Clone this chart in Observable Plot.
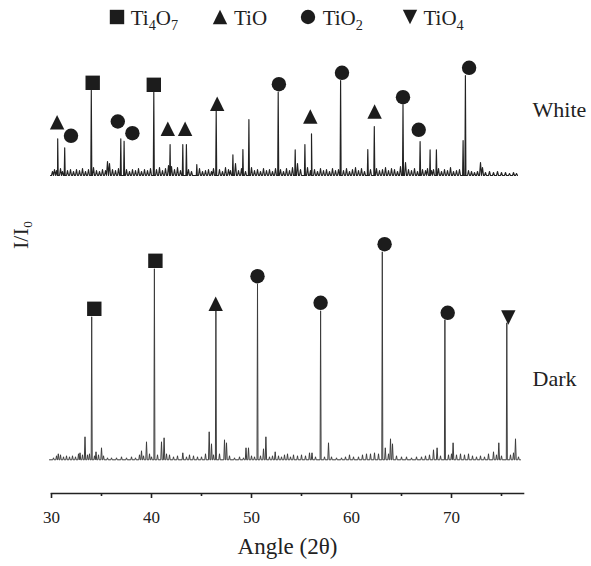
<!DOCTYPE html>
<html>
<head>
<meta charset="utf-8">
<script src="https://cdn.jsdelivr.net/npm/d3@7"></script>
<script src="https://cdn.jsdelivr.net/npm/@observablehq/plot@0.6"></script>
<style>
  body { margin: 0; background: #fff; font-family: "Liberation Serif", "Times New Roman", serif; color: #222; }
  #legend { position: relative; width: 591px; height: 34px; font-size: 21px; }
  #legend .item { position: absolute; top: 0; height: 34px; display: flex; align-items: center; }
  #legend svg { display: block; }
  #legend .lbl { position: absolute; top: 6px; line-height: 24px; white-space: nowrap; }
  #legend sub { font-size: 0.68em; vertical-align: -0.35em; line-height: 0; }
</style>
</head>
<body>
<div id="legend"></div>
<div id="chart"></div>
<script>
// ---------- data ----------
const majorTicks = [30, 40, 50, 60, 70];
const minorTicks = [35, 45, 55, 65, 75];
const sampleNames = ["White", "Dark"];

// White pattern: main peaks (angle 2θ, intensity a.u.)
const whitePeakAngle  = [30.62, 31.32, 33.98, 36.93, 37.26, 40.23, 41.86, 43.13, 43.49, 44.53, 46.47, 48.14, 49.14, 49.74, 52.67, 54.37, 55.34, 56.0, 58.91, 61.63, 62.28, 65.15, 66.86, 67.86, 68.49, 71.16, 71.39];
const whitePeakHeight = [36.7, 27.7, 85.3, 36.7, 34.3, 83.3, 31, 31, 31, 11, 65, 20.7, 26, 56, 83.3, 25.7, 31, 41.7, 95, 26, 49, 70.7, 34, 25.7, 25.7, 35, 100];
// White pattern: background noise spikes
const whiteNoiseAngle  = [30.1, 30.3, 30.5, 30.9, 31.1, 31.6, 31.9, 32.2, 32.5, 32.8, 33.1, 33.4, 33.7, 34.2, 34.5, 34.8, 35.1, 35.4, 35.6, 35.8, 36.1, 36.4, 36.7, 37.5, 37.8, 38.1, 38.4, 38.7, 39.0, 39.3, 39.6, 39.9, 40.5, 40.8, 41.1, 41.4, 41.7, 42.0, 42.3, 42.6, 42.9, 43.7, 44.0, 44.8, 45.1, 45.4, 45.7, 46.0, 46.2, 46.8, 47.1, 47.4, 47.7, 47.9, 48.4, 48.7, 49.0, 49.4, 50.0, 50.3, 50.6, 50.9, 51.2, 51.5, 51.8, 52.1, 52.4, 52.9, 53.2, 53.5, 53.8, 54.1, 54.6, 54.9, 55.6, 55.9, 56.3, 56.6, 56.9, 57.2, 57.5, 57.8, 58.1, 58.4, 58.7, 59.2, 59.5, 59.8, 60.1, 60.4, 60.7, 61.0, 61.3, 61.9, 62.5, 62.8, 63.1, 63.4, 63.7, 64.0, 64.3, 64.6, 64.9, 65.4, 65.7, 66.0, 66.3, 66.6, 67.1, 67.4, 67.6, 68.0, 68.2, 68.7, 69.0, 69.3, 69.6, 69.9, 70.2, 70.5, 70.8, 71.7, 72.0, 72.3, 72.6, 72.9, 73.1, 73.4, 73.8, 74.2, 74.6, 75.0, 75.4, 75.8, 76.2, 76.5];
const whiteNoiseHeight = [4, 6, 5, 7, 4, 5, 6, 4, 6, 5, 7, 4, 6, 8, 5, 4, 6, 5, 14, 12, 6, 5, 7, 6, 4, 6, 5, 7, 4, 6, 5, 7, 6, 8, 5, 7, 10, 9, 6, 8, 5, 6, 4, 7, 4, 5, 6, 4, 7, 6, 4, 8, 6, 5, 12, 5, 7, 4, 8, 5, 6, 4, 7, 5, 6, 4, 7, 6, 4, 7, 5, 8, 12, 6, 8, 5, 6, 4, 7, 5, 6, 4, 7, 5, 6, 5, 7, 4, 6, 8, 5, 7, 4, 6, 7, 5, 6, 8, 5, 7, 6, 4, 9, 13, 6, 5, 7, 4, 6, 5, 7, 5, 6, 7, 4, 6, 5, 8, 4, 5, 6, 5, 4, 3, 4, 13, 8, 3, 4, 3, 4, 3, 3, 2, 3, 2];

// Dark pattern: main peaks
const darkPeakAngle  = [34.02, 40.29, 46.44, 50.6, 56.91, 63.08, 69.34, 75.53];
const darkPeakHeight = [143, 191, 149, 176, 149, 208, 140, 137];
// Dark pattern: background noise spikes
const darkNoiseAngle  = [30.2, 30.5, 30.68, 30.9, 31.2, 31.5, 31.8, 32.1, 32.4, 32.7, 32.85, 33.1, 33.35, 33.6, 33.8, 34.3, 34.45, 34.7, 35.0, 35.2, 35.6, 36.0, 36.5, 37.0, 37.5, 38.0, 38.4, 38.8, 39.0, 39.2, 39.5, 39.8, 40.0, 40.6, 41.0, 41.26, 41.5, 41.8, 42.2, 42.6, 43.13, 43.5, 43.8, 44.2, 44.6, 45.0, 45.4, 45.77, 46.0, 46.2, 46.8, 47.3, 47.5, 47.8, 48.3, 48.8, 49.2, 49.45, 49.7, 50.0, 50.3, 50.9, 51.2, 51.44, 51.8, 52.1, 52.37, 52.7, 53.0, 53.3, 53.6, 53.9, 54.2, 54.6, 55.0, 55.4, 55.8, 56.05, 56.4, 57.3, 57.7, 58.0, 58.5, 59.0, 59.4, 59.8, 60.2, 60.7, 61.1, 61.5, 61.9, 62.3, 62.7, 63.38, 63.7, 63.9, 64.1, 64.5, 65.0, 65.5, 66.0, 66.5, 67.0, 67.4, 67.8, 68.2, 68.56, 68.9, 69.7, 70.0, 70.16, 70.5, 70.9, 71.3, 71.7, 72.1, 72.5, 72.9, 73.3, 73.7, 74.2, 74.5, 74.73, 75.0, 75.9, 76.2, 76.4, 76.7];
const darkNoiseHeight = [2, 4, 6, 5, 3, 4, 3, 4, 3, 6, 7, 5, 23, 5, 6, 4, 8, 5, 12, 4, 2, 2, 2, 3, 2, 3, 2, 5, 9, 4, 18, 6, 3, 5, 18, 22, 6, 5, 3, 4, 7, 3, 5, 4, 3, 3, 6, 28, 16, 5, 6, 20, 17, 4, 2, 3, 2, 12, 12, 4, 3, 4, 11, 23, 3, 4, 8, 4, 3, 5, 6, 3, 5, 4, 5, 4, 7, 7, 3, 3, 17, 3, 2, 2, 3, 5, 3, 3, 5, 6, 6, 7, 6, 12, 6, 21, 16, 4, 3, 3, 2, 3, 3, 4, 5, 10, 12, 4, 5, 6, 17, 5, 6, 5, 6, 4, 3, 4, 3, 6, 8, 5, 17, 4, 5, 7, 21, 3];

// Phase markers
const whiteMarkerPhase = ["TiO", "TiO2", "Ti4O7", "TiO2", "TiO2", "Ti4O7", "TiO", "TiO", "TiO", "TiO2", "TiO", "TiO2", "TiO", "TiO2", "TiO2", "TiO2"];
const whiteMarkerAngle = [30.56, 31.95, 34.12, 36.63, 38.09, 40.23, 41.63, 43.36, 46.57, 52.74, 55.88, 59.05, 62.31, 65.15, 66.72, 71.76];
const whiteMarkerLevel = [53.3, 39.7, 92.7, 54, 42.3, 90.7, 46.7, 46.7, 71.7, 91.3, 59, 102.7, 64, 78.3, 45.7, 107.7];
const darkMarkerPhase = ["Ti4O7", "Ti4O7", "TiO", "TiO2", "TiO2", "TiO2", "TiO2", "TiO4"];
const darkMarkerAngle = [34.28, 40.39, 46.42, 50.6, 56.91, 63.31, 69.62, 75.68];
const darkMarkerLevel = [151, 199, 156, 183.6, 157, 215.6, 147, 142.3];

const phases = ["Ti4O7", "TiO", "TiO2", "TiO4"];
const phaseLabels = ["Ti<sub>4</sub>O<sub>7</sub>", "TiO", "TiO<sub>2</sub>", "TiO<sub>4</sub>"];

// ---------- layout constants ----------
const whiteOffset = 284.3;   // vertical stacking offset of the White pattern
const ink = "#1c1c1c";

// ---------- build traces ----------
function buildTrace(angles, heights, noiseA, noiseH, start, end, wPeak, wNoise) {
  const pts = [{a: start, h: 0}];
  const all = angles.map((a, i) => [a, heights[i], wPeak]).concat(noiseA.map((a, i) => [a, noiseH[i], wNoise]));
  all.sort((p, q) => p[0] - q[0]);
  for (const [a, h, w] of all) {
    pts.push({a: a - w, h: 0}, {a, h}, {a: a + w, h: 0});
  }
  pts.push({a: end, h: 0});
  pts.sort((p, q) => p.a - q.a);
  return pts;
}
const whiteTrace = buildTrace(whitePeakAngle, whitePeakHeight, whiteNoiseAngle, whiteNoiseHeight, 29.9, 76.6, 0.05, 0.1)
  .map(d => ({a: d.a, y: d.h + whiteOffset}));
const darkTrace = buildTrace(darkPeakAngle, darkPeakHeight, darkNoiseAngle, darkNoiseHeight, 29.8, 76.9, 0.05, 0.07)
  .map(d => ({a: d.a, y: d.h}));

const markers = whiteMarkerAngle.map((a, i) => ({phase: whiteMarkerPhase[i], a, y: whiteMarkerLevel[i] + whiteOffset}))
  .concat(darkMarkerAngle.map((a, i) => ({phase: darkMarkerPhase[i], a, y: darkMarkerLevel[i]})));

// ---------- custom symbols ----------
const rad = s => Math.sqrt(s / Math.PI);
const symbols = {
  Ti4O7: {draw(c, s) { const r = rad(s); c.rect(-r, -r, 2 * r, 2 * r); }},
  TiO:   {draw(c, s) { const r = rad(s); c.moveTo(0, -r); c.lineTo(r, r); c.lineTo(-r, r); c.closePath(); }},
  TiO2:  {draw(c, s) { const r = rad(s); c.moveTo(r, 0); c.arc(0, 0, r, 0, 2 * Math.PI); c.closePath(); }},
  TiO4:  {draw(c, s) { const r = rad(s); c.moveTo(0, r); c.lineTo(r, -r); c.lineTo(-r, -r); c.closePath(); }}
};

// ---------- legend ----------
const legendSymLeft = [108.7, 212, 300, 401.5];
const legendTxtLeft = [130.7, 234, 322.7, 423.5];
const legend = document.getElementById("legend");
phases.forEach((p, i) => {
  const item = document.createElement("div");
  item.className = "item";
  item.style.left = legendSymLeft[i] + "px";
  const path = d3.path();
  symbols[p].draw(path, Math.PI * 7.2 * 7.2);
  item.innerHTML = `<svg width="16" height="16" viewBox="-8 -8 16 16"><path d="${path.toString()}" fill="${ink}"/></svg>`;
  legend.appendChild(item);
  const lbl = document.createElement("div");
  lbl.className = "lbl";
  lbl.style.left = legendTxtLeft[i] + "px";
  lbl.innerHTML = phaseLabels[i];
  legend.appendChild(lbl);
});

// ---------- chart ----------
const sampleLevels = [66 + whiteOffset, 81];
const chart = Plot.plot({
  width: 591,
  height: 532,
  marginLeft: 51,
  marginRight: 68,
  marginTop: 10,
  marginBottom: 73,
  style: {fontFamily: "'Liberation Serif', 'Times New Roman', serif", fontSize: "17px", color: "#222", background: "#fff", overflow: "visible"},
  x: {domain: [30, 77.2]},
  y: {domain: [-33.7, 415.3], axis: null},
  marks: [
    Plot.line(whiteTrace, {x: "a", y: "y", stroke: "#222", strokeWidth: 1.15}),
    Plot.line(darkTrace, {x: "a", y: "y", stroke: "#3c3c3c", strokeWidth: 1}),
    ...phases.map(p => Plot.dot(markers.filter(d => d.phase === p), {x: "a", y: "y", symbol: symbols[p], r: 7.2, fill: ink, stroke: "none"})),
    Plot.frame({anchor: "bottom", stroke: "#222", strokeWidth: 1.6}),
    Plot.axisX({ticks: majorTicks, tickSize: 5, tickPadding: 12, tickFormat: d => String(d), label: null, strokeWidth: 1.6}),
    Plot.axisX({ticks: minorTicks, tickSize: 3, tickFormat: () => "", label: null, strokeWidth: 1.6}),
    Plot.text(["Angle (2θ)"], {frameAnchor: "bottom", dy: 60, fontSize: 23, fill: "#222"}),
    Plot.text(["I/I₀"], {frameAnchor: "left", rotate: -90, dx: -31, dy: -20, fontSize: 22, fill: "#222"}),
    Plot.text(sampleNames, {y: (d, i) => sampleLevels[i], frameAnchor: "right", dx: 9, textAnchor: "start", fontSize: 22, fill: "#222"})
  ]
});
document.getElementById("chart").appendChild(chart);
</script>
</body>
</html>
